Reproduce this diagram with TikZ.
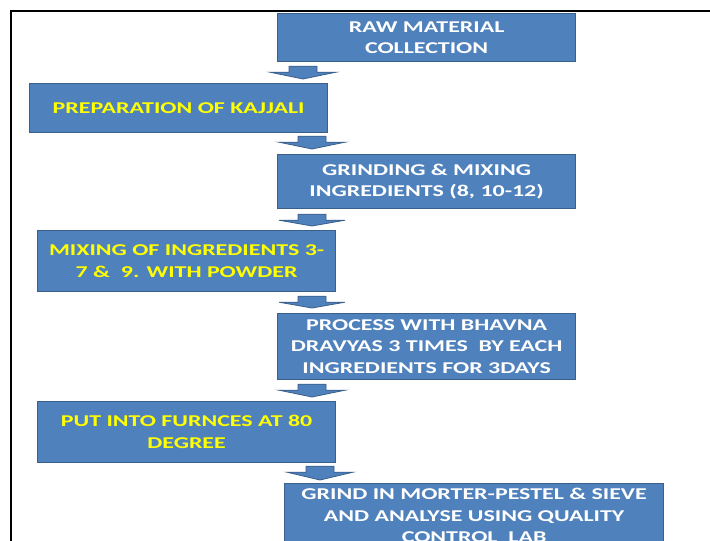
\documentclass[tikz,border=0pt]{standalone}
\usepackage{fontspec}
\setmainfont{Carlito}[FakeStretch=1.45]
\usetikzlibrary{calc}
\definecolor{boxblue}{HTML}{4F81BD}
\definecolor{boxedge}{HTML}{3A5F8B}
\definecolor{stepyellow}{HTML}{FFFF00}
\tikzset{
  stage/.style={draw=boxedge, line width=1.2pt, fill=boxblue, anchor=north west, align=center,
    inner sep=0pt, font=\fontsize{16.5}{21.5}\selectfont\bfseries, text=white, minimum width=298pt},
  ylw/.style={text=stepyellow},
  blockarrow/.style={draw=boxedge, line width=0.8pt, fill=boxblue, line join=miter, to path={
    ($(\tikztostart)+(-14,0)$) -- ($(\tikztostart)+(14,0)$) -- ($(\tikztostart)+(14,6)$)
    -- ($(\tikztostart)+(33,6)$) -- (\tikztotarget) -- ($(\tikztostart)+(-33,6)$)
    -- ($(\tikztostart)+(-14,6)$) -- cycle}}
}
\begin{document}
\begin{tikzpicture}[x=1pt, y=-1pt]
\useasboundingbox (0,0) rectangle (710,541);
\clip (0,0) rectangle (710,541);
\fill[white] (0,0) rectangle (710,541);
\draw[line width=2.5pt] (710,11) -- (11,11) -- (11,545);

\node[stage, minimum height=48pt] (raw) at (277,13) {RAW MATERIAL\\COLLECTION};
\node[stage, ylw, minimum height=49pt] (kaj) at (29,83) {PREPARATION OF KAJJALI};
\node[stage, minimum height=54pt] (grind) at (277,154) {GRINDING \& MIXING\\INGREDIENTS (8, 10-12)};
\node[stage, ylw, minimum height=61pt] (mix) at (37,230) {MIXING OF INGREDIENTS 3-\\7 \&\ \ 9. WITH POWDER};
\node[stage, minimum height=66pt] (bhav) at (277,313) {PROCESS WITH BHAVNA\\DRAVYAS 3 TIMES\ \ BY EACH\\INGREDIENTS FOR 3DAYS};
\node[stage, ylw, minimum height=61pt] (furn) at (37,401) {PUT INTO FURNCES AT 80\\DEGREE};
\node[stage, minimum width=379pt, minimum height=64pt] (sieve) at (284,483) {GRIND IN MORTER-PESTEL \& SIEVE\\AND ANALYSE USING QUALITY\\CONTROL\ \ LAB};

\draw[blockarrow] ($(raw.south west)+(26,4)$) to ($(kaj.north -| raw.south west)+(26,-4)$);
\draw[blockarrow] ($(kaj.south -| grind.north west)+(35,3)$) to ($(grind.north west)+(35,-5)$);
\draw[blockarrow] ($(grind.south west)+(35,5)$) to ($(mix.north -| grind.south west)+(35,-4)$);
\draw[blockarrow] ($(mix.south -| bhav.north west)+(35,4)$) to ($(bhav.north west)+(35,-5)$);
\draw[blockarrow] ($(bhav.south west)+(35,4)$) to ($(furn.north -| bhav.south west)+(35,-4)$);
\draw[blockarrow] ($(furn.south -| sieve.north west)+(36,3)$) to ($(sieve.north west)+(36,-3)$);
\end{tikzpicture}
\end{document}
